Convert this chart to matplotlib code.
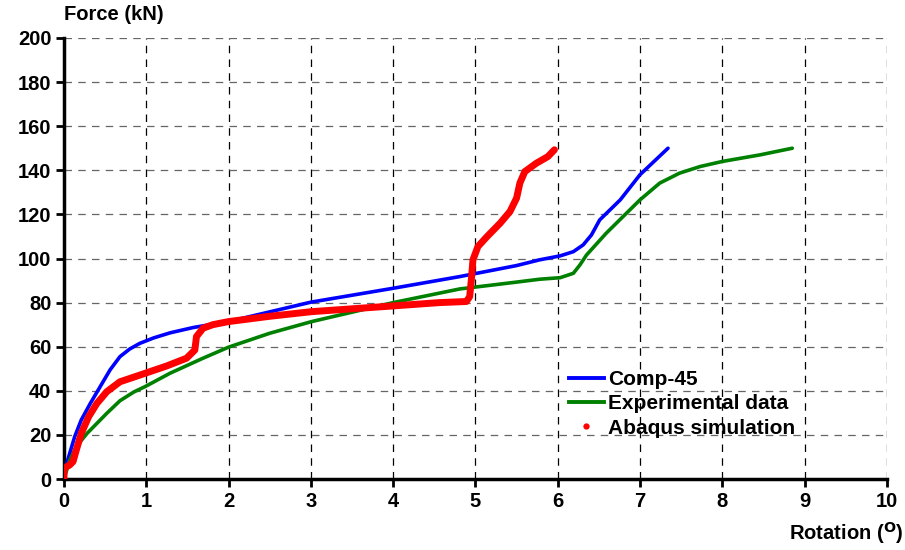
import matplotlib
matplotlib.use("Agg")
import matplotlib.pyplot as plt
from matplotlib.lines import Line2D

plt.rcParams['font.family'] = ['Liberation Sans', 'DejaVu Sans']
plt.rcParams['font.weight'] = 'bold'
plt.rcParams['mathtext.default'] = 'bf'

# Comp-45 (blue)
comp_x = [0, 0.01, 0.07, 0.13, 0.21, 0.32, 0.44, 0.56, 0.68, 0.80, 0.92, 1.09,
          1.29, 1.57, 2.0, 2.5, 3.0, 4.0, 4.81, 5.5, 5.78, 6.03, 6.19, 6.31,
          6.41, 6.51, 6.76, 7.0, 7.34]
comp_y = [0, 4.1, 11.7, 19.2, 26.8, 34.3, 41.9, 49.5, 55.5, 59.0, 61.5, 64.0,
          66.3, 68.7, 71.4, 75.8, 80.2, 86.5, 91.8, 96.8, 99.4, 101.2, 103.1, 106.2,
          110.7, 117.5, 126.6, 138, 150]

# Experimental data (green)
exp_x = [0, 0.07, 0.15, 0.28, 0.52, 0.68, 0.85, 0.99, 1.29, 1.69, 2.0, 2.5,
         3.01, 4.0, 4.81, 5.5, 5.78, 6.03, 6.19, 6.27, 6.35, 6.59, 7.0, 7.24,
         7.48, 7.73, 8.0, 8.46, 8.85]
exp_y = [0, 8.6, 14.7, 20.7, 29.8, 35.5, 39.5, 42.0, 48.0, 54.8, 59.8, 66.1,
         71.4, 80, 86.2, 89.3, 90.6, 91.3, 93.3, 97.1, 101.6, 111.5, 126.6, 134.2,
         138.7, 141.7, 144, 147, 150]

# Abaqus simulation (red)
abq_x = [0, 0.0, 0.07, 0.11, 0.15, 0.21, 0.30, 0.40, 0.52, 0.68, 0.99, 1.25,
         1.49, 1.59, 1.61, 1.69, 1.81, 2.0, 2.5, 3.01, 4.0, 4.56, 4.89,
         4.93, 4.95, 4.97, 5.03, 5.14, 5.30, 5.42, 5.50, 5.54, 5.60, 5.74, 5.88, 5.96]
abq_y = [0, 4.9, 6.4, 7.9, 13.2, 20.7, 28.3, 34.3, 39.6, 44.1, 48.0, 51.3,
         54.8, 58.5, 64.6, 68.4, 70.0, 71.4, 73.8, 75.9, 78.5, 80.0, 80.5,
         82.7, 90.3, 99.4, 105.4, 109.9, 116.0, 121.3, 127.4, 134.2, 139.4, 143.2, 146.2, 149.3]

fig = plt.figure(figsize=(9.05, 5.5), dpi=100)
ax = fig.add_axes([0.0707, 0.129, 0.9093, 0.802])

ax.plot(comp_x, comp_y, color='#0000ff', lw=2.6, solid_capstyle='round',
        solid_joinstyle='round', zorder=3)
ax.plot(exp_x, exp_y, color='#008000', lw=2.6, solid_capstyle='round',
        solid_joinstyle='round', zorder=3)
ax.plot(abq_x, abq_y, color='#ff0000', lw=5, solid_capstyle='round',
        solid_joinstyle='round', zorder=4)

ax.set_xlim(0, 10)
ax.set_ylim(0, 200)
ax.set_xticks(range(0, 11))
ax.set_yticks(range(0, 201, 20))

ax.xaxis.grid(True, color='black', linestyle=(0, (6, 5)), lw=0.9)
ax.yaxis.grid(True, color='#666666', linestyle=(0, (6, 5)), lw=0.9)
ax.set_axisbelow(True)

for s in ['top', 'right']:
    ax.spines[s].set_visible(False)
for s in ['left', 'bottom']:
    ax.spines[s].set_linewidth(2.5)
ax.tick_params(axis='both', direction='out', length=6, width=2, labelsize=14.5, pad=3)
for lab in ax.get_xticklabels() + ax.get_yticklabels():
    lab.set_fontweight('bold')

fig.text(0.0707, 0.973, 'Force (kN)', fontsize=14.5, fontweight='bold',
         ha='left', va='center')
fig.text(0.998, 0.031, r'Rotation ($^{\mathrm{O}}$)', fontsize=14.5, fontweight='bold',
         ha='right', va='center')

handles = [Line2D([], [], color='#0000ff', lw=2.8),
           Line2D([], [], color='#008000', lw=2.8),
           Line2D([], [], color='#ff0000', marker='o', markersize=3.5, lw=0)]
leg = ax.legend(handles, ['Comp-45', 'Experimental data', 'Abaqus simulation'],
                loc='upper left', bbox_to_anchor=(0.614, 0.247), frameon=False,
                prop={'size': 15, 'weight': 'bold'}, handlelength=1.65,
                handletextpad=0.2, labelspacing=0.25, borderaxespad=0, borderpad=0)

fig.savefig('out.png', dpi=100)
